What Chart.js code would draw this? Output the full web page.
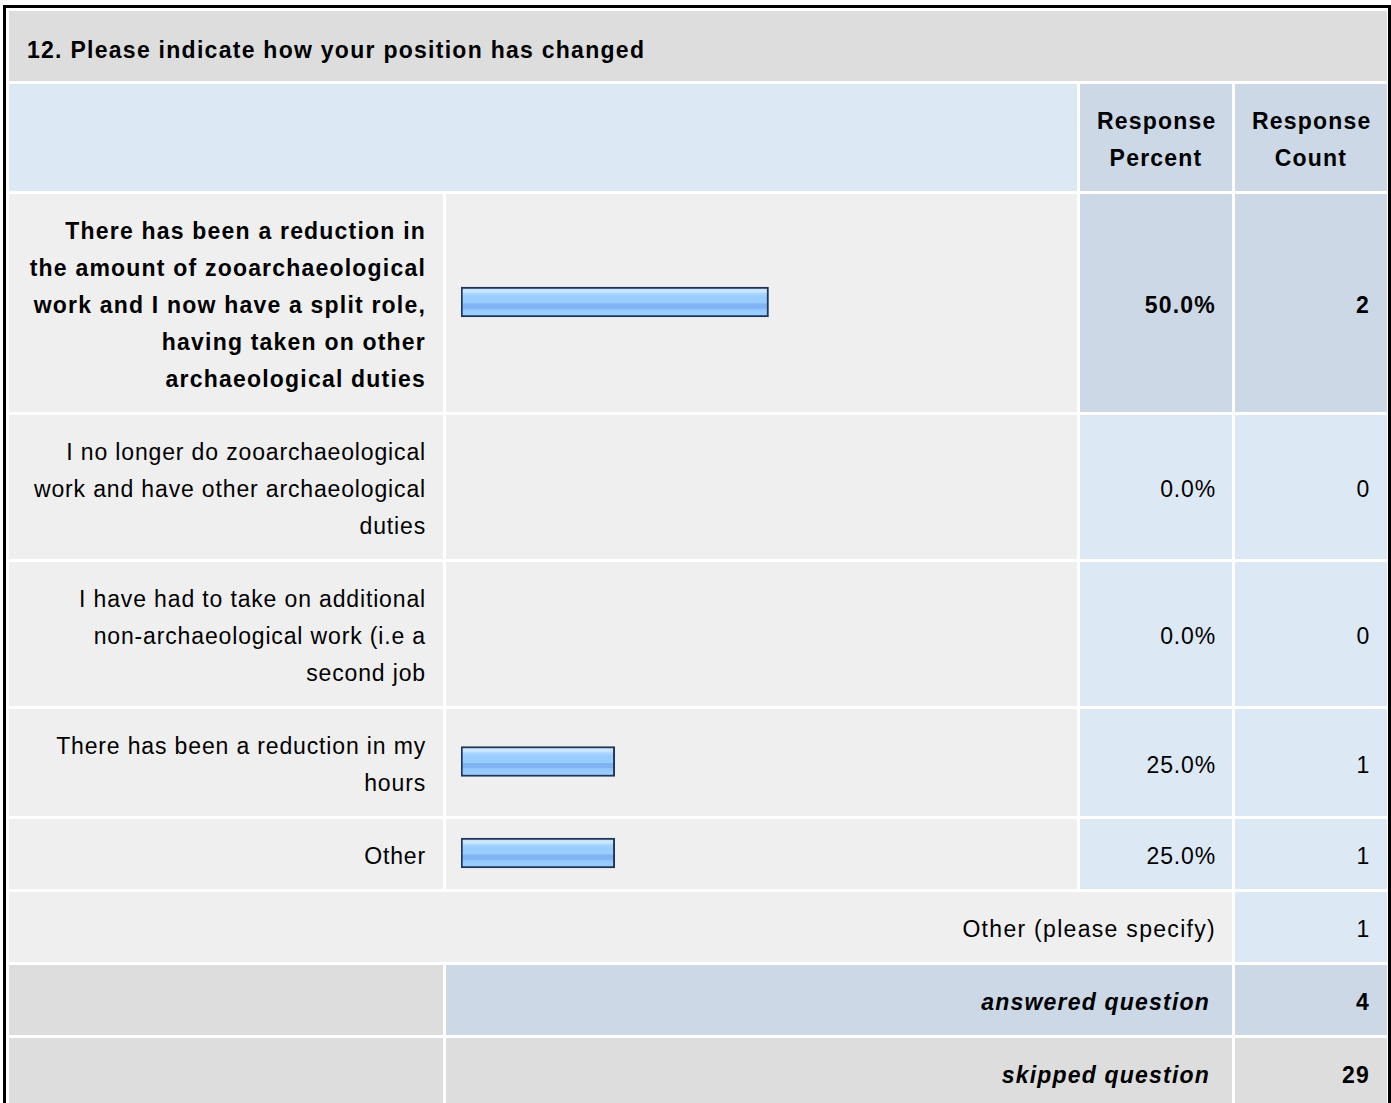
<!DOCTYPE html>
<html>
<head>
<meta charset="utf-8">
<script src="https://cdn.jsdelivr.net/npm/chart.js@4.4.1/dist/chart.umd.min.js"></script>
<style>
  body { margin: 0; background: #fff; }
  #box {
    position: absolute; left: 3px; top: 5px; width: 1382px;
    border: 3px solid #000; border-bottom: none;
  }
  table {
    width: 1384px; table-layout: fixed; border-collapse: separate; border-spacing: 3px;
    font-family: "Liberation Sans", Arial, sans-serif; font-size: 23px; line-height: 37px;
    letter-spacing: 0.85px; color: #000;
  }
  td { padding: 19px 17px 14px 17px; vertical-align: middle; white-space: pre-line; }
  .title { background: #dddddd; font-weight: bold; padding: 21px 17px 12px 18px; letter-spacing: 1.27px; }
  .hblank { background: #dde8f5; }
  .hcol { background: #ccd8e6; font-weight: bold; text-align: center; letter-spacing: 1.2px; }
  .lab { background: #efefef; text-align: right; }
  .bar { background: #efefef; position: relative; padding: 0; }
  .bar div { position: absolute; left: 0; top: 0; right: 0; bottom: 0; }
  .num { background: #dde8f5; text-align: right; padding-right: 16px; }
  .hi { background: #ccd8e6; font-weight: bold; letter-spacing: 1.2px; }
  .gray { background: #dddddd; }
  .sum { font-weight: bold; font-style: italic; text-align: right; letter-spacing: 1.2px; }
</style>
</head>
<body>
<div id="box">
  <table id="tbl">
    <colgroup><col style="width:434px"><col style="width:631px"><col style="width:152px"><col style="width:152px"></colgroup>
    <tbody id="body"></tbody>
  </table>
</div>
<script>
const question = "12. Please indicate how your position has changed";
const headers = ["Response\nPercent", "Response\nCount"];
const choices = [
  "There has been a reduction in\nthe amount of zooarchaeological\nwork and I now have a split role,\nhaving taken on other\narchaeological duties",
  "I no longer do zooarchaeological\nwork and have other archaeological\nduties",
  "I have had to take on additional\nnon-archaeological work (i.e a\nsecond job",
  "There has been a reduction in my\nhours",
  "Other"
];
const percents = [50.0, 0.0, 0.0, 25.0, 25.0];
const counts = [2, 0, 0, 1, 1];
const otherLabel = "Other (please specify)";
const otherCount = 1;
const answered = 4;
const skipped = 29;

const body = document.getElementById("body");
const maxPct = Math.max(...percents);

function row(html) {
  const tr = document.createElement("tr");
  tr.innerHTML = html;
  body.appendChild(tr);
  return tr;
}

row(`<td class="title" colspan="4">${question}</td>`);
row(`<td class="hblank" colspan="2"></td><td class="hcol">${headers[0]}</td><td class="hcol">${headers[1]}</td>`);

const barCells = [];
choices.forEach((c, i) => {
  const hi = percents[i] === maxPct ? " hi" : "";
  const tr = row(
    `<td class="lab${hi}" style="${hi ? "background:#efefef" : ""}">${c}</td>` +
    `<td class="bar"><div><canvas></canvas></div></td>` +
    `<td class="num${hi}">${percents[i].toFixed(1)}%</td>` +
    `<td class="num${hi}" style="padding-right:17px">${counts[i]}</td>`
  );
  barCells.push(tr.querySelector("canvas"));
});

row(`<td class="lab" colspan="3" style="padding-right:16px;letter-spacing:1.3px">${otherLabel}</td><td class="num" style="padding-right:17px">${otherCount}</td>`);
row(`<td class="gray"></td><td class="hi sum" colspan="2" style="padding-right:22px">answered question</td><td class="hi num" style="padding-right:17px">${answered}</td>`);
row(`<td class="gray"></td><td class="gray sum" colspan="2" style="padding-right:22px">skipped question</td><td class="gray num hi" style="background:#dddddd;padding-right:17px">${skipped}</td>`);

function barFill(context) {
  const chart = context.chart;
  const a = chart.chartArea;
  if (!a) return "#99ccff";
  const mid = (a.top + a.bottom) / 2;
  const g = chart.ctx.createLinearGradient(0, mid - 14.5, 0, mid + 14.5);
  g.addColorStop(0, "#c2e1ff");
  g.addColorStop(0.14, "#cde7ff");
  g.addColorStop(0.22, "#a8d4ff");
  g.addColorStop(0.32, "#99ccff");
  g.addColorStop(0.54, "#99ccff");
  g.addColorStop(0.56, "#80b3f3");
  g.addColorStop(0.72, "#80b3f3");
  g.addColorStop(0.74, "#8fc4fc");
  g.addColorStop(0.86, "#99ccff");
  g.addColorStop(1, "#99ccff");
  return g;
}

barCells.forEach((cv, i) => {
  new Chart(cv.getContext("2d"), {
    type: "bar",
    data: {
      labels: [choices[i]],
      datasets: [{
        data: [percents[i]],
        backgroundColor: barFill,
        borderColor: "#1e3659",
        borderWidth: 2,
        borderSkipped: false,
        barThickness: 30,
      }],
    },
    options: {
      indexAxis: "y",
      responsive: true,
      maintainAspectRatio: false,
      animation: false,
      layout: { padding: { left: 15, right: 1, top: 0, bottom: 2 } },
      scales: {
        x: { display: false, min: 0, max: 100 },
        y: { display: false },
      },
      plugins: { legend: { display: false }, tooltip: { enabled: false } },
    },
  });
});
</script>
</body>
</html>
